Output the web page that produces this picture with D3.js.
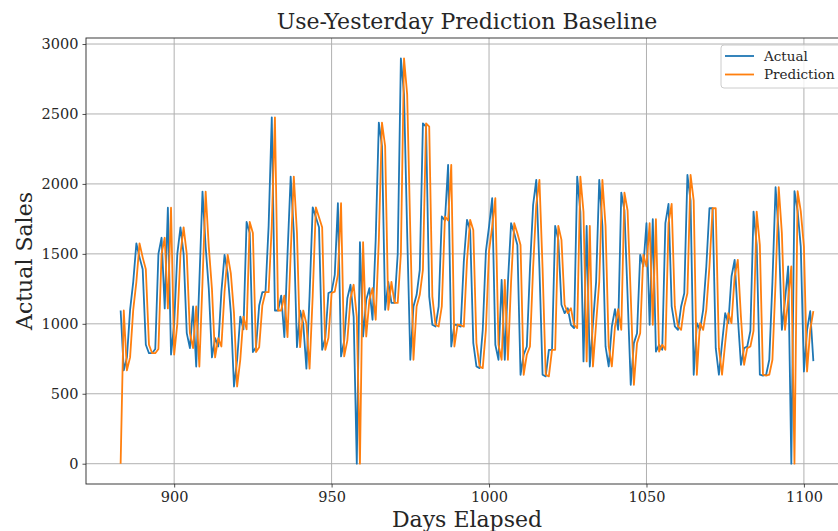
<!DOCTYPE html>
<meta charset="utf-8">
<style>
body { margin: 0; background: #fff; }
text { font-family: "DejaVu Serif", serif; fill: #262626; }
.grid line { stroke: #b0b0b0; stroke-width: 1px; }
.axis path { display: none; }
.axis line { stroke: #262626; stroke-width: 0.8px; }
.axis text { font-size: 14.5px; }
.frame { fill: none; stroke: #262626; stroke-width: 0.9px; }
.series { fill: none; stroke-width: 1.8px; stroke-linejoin: round; }
</style>
<svg width="838" height="531"></svg>
<script src="https://d3js.org/d3.v7.min.js"></script>
<script>

var svg = d3.select("svg"),
    width = +svg.attr("width"),
    height = +svg.attr("height");

// first day on the x axis, one value per day after that
var firstDay = 883;

var actual = [
  1095, 667, 760, 1100, 1300, 1575, 1475, 1390, 850, 790,
  790, 820, 1500, 1615, 1110, 1830, 780, 1000, 1500, 1690,
  1500, 933, 826, 1124, 695, 1300, 1945, 1550, 1250, 760,
  898, 838, 1230, 1493, 1360, 1076, 552, 743, 1052, 960,
  1728, 1650, 798, 833, 1131, 1226, 1226, 1700, 2476, 1095,
  1095, 1202, 905, 1500, 2052, 1650, 833, 1095, 1000, 679,
  1200, 1833, 1762, 1690, 814, 900, 1220, 1230, 1350, 1862,
  767, 880, 1183, 1279, 1050, 0, 1583, 909, 1171, 1255,
  1029, 1600, 2438, 2271, 1100, 1300, 1150, 1150, 1500, 2898,
  2640, 1650, 743, 1124, 1207, 1386, 2433, 2410, 1195, 993,
  981, 1124, 1767, 1738, 2136, 838, 995, 990, 980, 1450,
  1743, 1671, 862, 695, 683, 957, 1517, 1695, 1898, 850,
  743, 1314, 743, 1300, 1719, 1648, 1564, 636, 779, 838,
  1400, 1850, 2029, 1400, 636, 624, 814, 814, 1700, 1600,
  1136, 1076, 1112, 993, 969, 2052, 1800, 731, 1700, 695,
  1000, 1300, 2029, 1700, 838, 695, 981, 1105, 957, 1938,
  1810, 1200, 564, 862, 933, 1493, 1410, 1719, 993, 1748,
  802, 850, 814, 1719, 1857, 1124, 981, 957, 1124, 1219,
  2064, 1880, 636, 1005, 957, 1100, 1410, 1826, 1826, 826,
  636, 862, 1076, 1005, 1338, 1457, 1050, 707, 826, 838,
  950, 1802, 1564, 636, 630, 636, 743, 1300, 1976, 1648,
  957, 1171, 1410, 0, 1948, 1805, 1552, 659, 957, 1090,
  733
];

var prediction = [
  0, 1095, 667, 760, 1100, 1300, 1575, 1475, 1390, 850,
  790, 790, 820, 1500, 1615, 1110, 1830, 780, 1000, 1500,
  1690, 1500, 933, 826, 1124, 695, 1300, 1945, 1550, 1250,
  760, 898, 838, 1230, 1493, 1360, 1076, 552, 743, 1052,
  960, 1728, 1650, 798, 833, 1131, 1226, 1226, 1700, 2476,
  1095, 1095, 1202, 905, 1500, 2052, 1650, 833, 1095, 1000,
  679, 1200, 1833, 1762, 1690, 814, 900, 1220, 1230, 1350,
  1862, 767, 880, 1183, 1279, 1050, 0, 1583, 909, 1171,
  1255, 1029, 1600, 2438, 2271, 1100, 1300, 1150, 1150, 1500,
  2898, 2640, 1650, 743, 1124, 1207, 1386, 2433, 2410, 1195,
  993, 981, 1124, 1767, 1738, 2136, 838, 995, 990, 980,
  1450, 1743, 1671, 862, 695, 683, 957, 1517, 1695, 1898,
  850, 743, 1314, 743, 1300, 1719, 1648, 1564, 636, 779,
  838, 1400, 1850, 2029, 1400, 636, 624, 814, 814, 1700,
  1600, 1136, 1076, 1112, 993, 969, 2052, 1800, 731, 1700,
  695, 1000, 1300, 2029, 1700, 838, 695, 981, 1105, 957,
  1938, 1810, 1200, 564, 862, 933, 1493, 1410, 1719, 993,
  1748, 802, 850, 814, 1719, 1857, 1124, 981, 957, 1124,
  1219, 2064, 1880, 636, 1005, 957, 1100, 1410, 1826, 1826,
  826, 636, 862, 1076, 1005, 1338, 1457, 1050, 707, 826,
  838, 950, 1802, 1564, 636, 630, 636, 743, 1300, 1976,
  1648, 957, 1171, 1410, 0, 1948, 1805, 1552, 659, 957,
  1090
];

var xTicks = [900, 950, 1000, 1050, 1100];
var yTicks = [0, 500, 1000, 1500, 2000, 2500, 3000];
var seriesNames = ["Actual", "Prediction"];
var colors = ["#1f77b4", "#ff7f0e"];

svg.append("rect").attr("width", width).attr("height", height).attr("fill", "#fff");

// plot box, the right edge runs a bit past the picture like the original
var m = {left: 86, right: 848, top: 38, bottom: 484};

var x = d3.scaleLinear().domain([872, 1114]).range([m.left, m.right]);
var y = d3.scaleLinear().domain([-145, 3043]).range([m.bottom, m.top]);

svg.append("clipPath").attr("id", "plotclip")
  .append("rect")
    .attr("x", m.left).attr("y", m.top)
    .attr("width", m.right - m.left).attr("height", m.bottom - m.top);

// grid
var grid = svg.append("g").attr("class", "grid");
grid.selectAll(".gx").data(xTicks).enter().append("line")
    .attr("x1", function(d) { return x(d); })
    .attr("x2", function(d) { return x(d); })
    .attr("y1", m.top).attr("y2", m.bottom);
grid.selectAll(".gy").data(yTicks).enter().append("line")
    .attr("x1", m.left).attr("x2", m.right)
    .attr("y1", function(d) { return y(d); })
    .attr("y2", function(d) { return y(d); });

// lines
var line = d3.line()
    .x(function(d, i) { return x(firstDay + i); })
    .y(function(d) { return y(d); });

var plot = svg.append("g").attr("clip-path", "url(#plotclip)");
[actual, prediction].forEach(function(s, k) {
  plot.append("path")
      .datum(s)
      .attr("class", "series")
      .attr("stroke", colors[k])
      .attr("d", line);
});

// frame
svg.append("rect")
    .attr("class", "frame")
    .attr("x", m.left).attr("y", m.top)
    .attr("width", m.right - m.left).attr("height", m.bottom - m.top);

// axes
svg.append("g")
    .attr("class", "axis")
    .attr("transform", "translate(0," + m.bottom + ")")
    .call(d3.axisBottom(x).tickValues(xTicks).tickSize(3.5).tickPadding(4).tickFormat(d3.format("d")));

svg.append("g")
    .attr("class", "axis")
    .attr("transform", "translate(" + m.left + ",0)")
    .call(d3.axisLeft(y).tickValues(yTicks).tickSize(3.5).tickPadding(4).tickFormat(d3.format("d")));

// titles
svg.append("text")
    .attr("x", (m.left + m.right) / 2)
    .attr("y", 29)
    .attr("text-anchor", "middle")
    .style("font-size", "22px")
    .text("Use-Yesterday Prediction Baseline");

svg.append("text")
    .attr("x", (m.left + m.right) / 2)
    .attr("y", 527)
    .attr("text-anchor", "middle")
    .style("font-size", "22px")
    .text("Days Elapsed");

svg.append("text")
    .attr("transform", "translate(32," + ((m.top + m.bottom) / 2) + ") rotate(-90)")
    .attr("text-anchor", "middle")
    .style("font-size", "22px")
    .text("Actual Sales");

// legend
var legend = svg.append("g").attr("transform", "translate(721,45)");
legend.append("rect")
    .attr("width", 121).attr("height", 43)
    .attr("rx", 3)
    .attr("fill", "#fff").attr("fill-opacity", 0.8)
    .attr("stroke", "#cccccc").attr("stroke-width", 1);

var item = legend.selectAll(".item").data(seriesNames).enter().append("g")
    .attr("transform", function(d, i) { return "translate(0," + (11 + i * 18.5) + ")"; });
item.append("line")
    .attr("x1", 4).attr("x2", 33)
    .attr("stroke", function(d, i) { return colors[i]; })
    .attr("stroke-width", 1.8);
item.append("text")
    .attr("x", 43).attr("y", 4.5)
    .style("font-size", "13.5px")
    .text(function(d) { return d; });

</script>
